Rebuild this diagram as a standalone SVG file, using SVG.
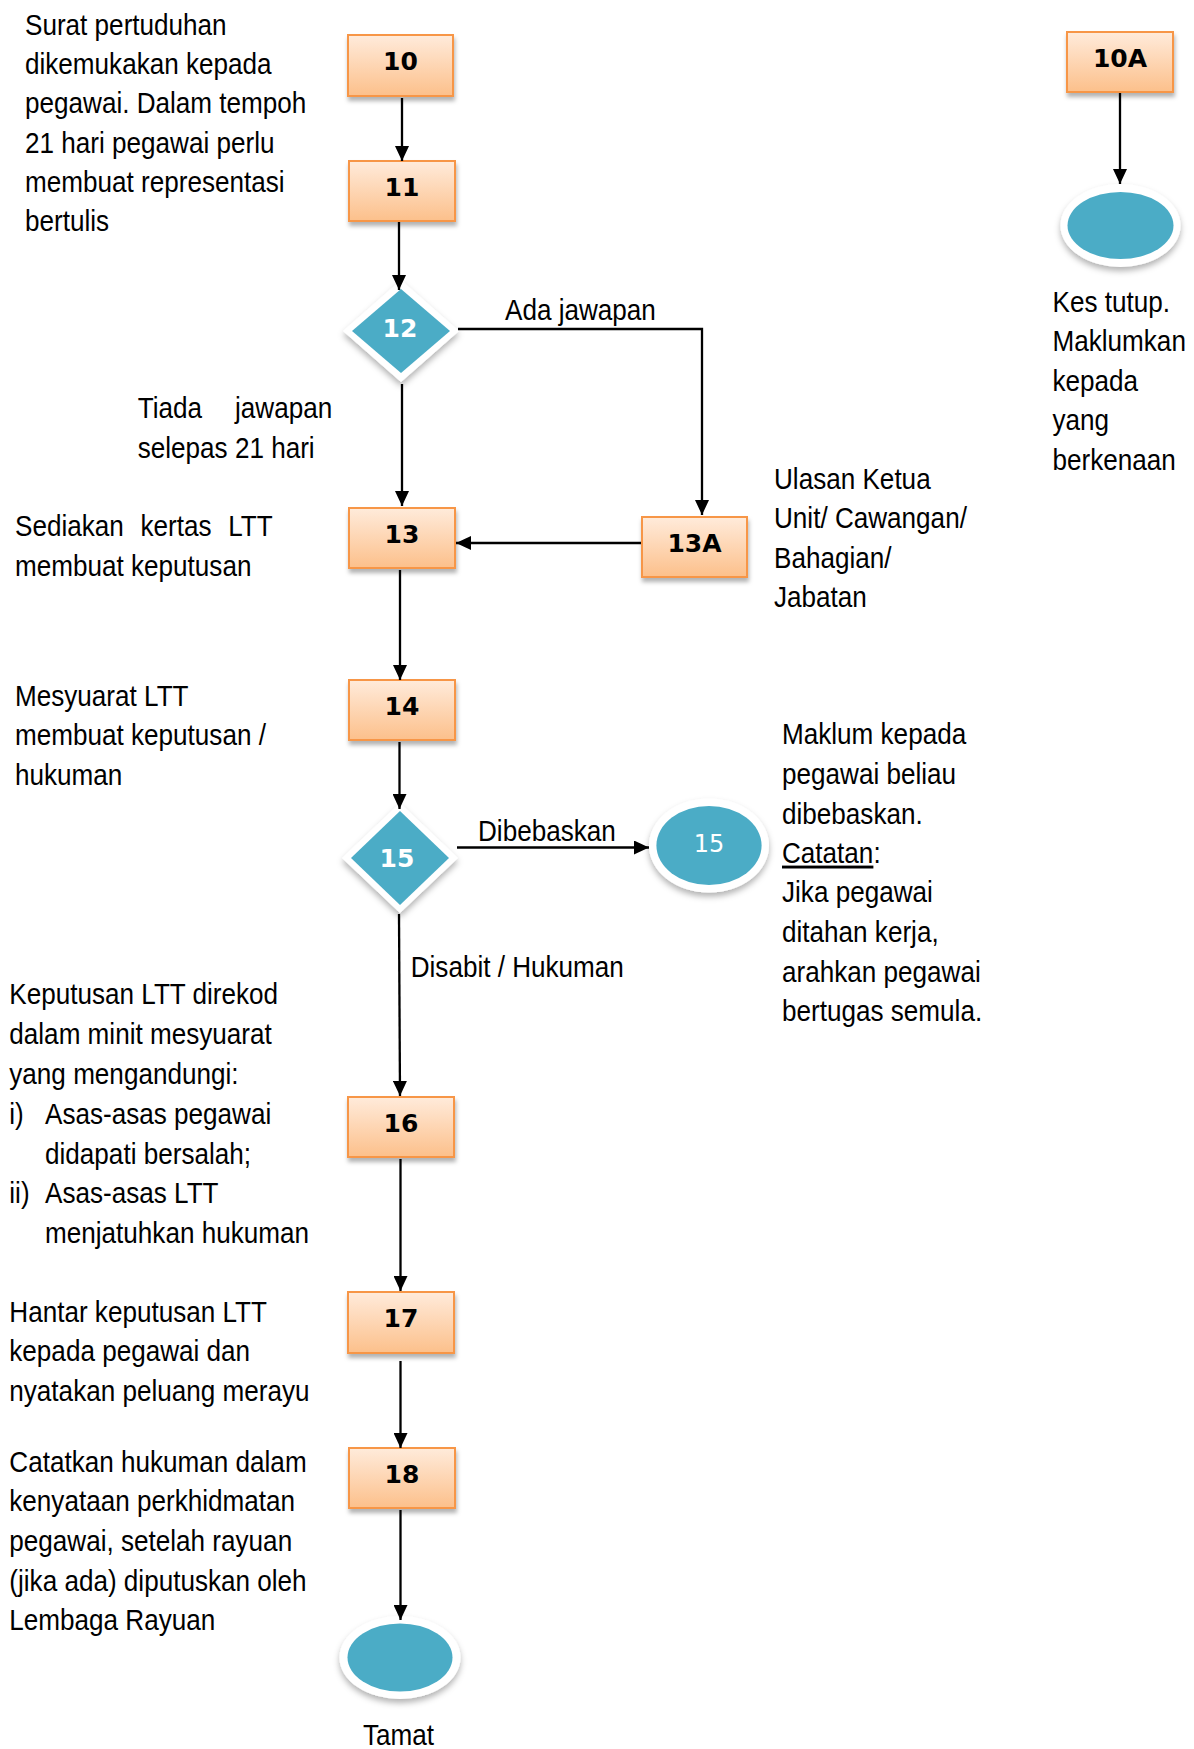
<svg xmlns="http://www.w3.org/2000/svg" width="1194" height="1749" viewBox="0 0 1194 1749">
  <style>
    .box { fill: url(#boxGrad); stroke: #F79646; stroke-width: 2; filter: url(#shadow); }
    .blab { font-family: "DejaVu Sans", Verdana, sans-serif; font-weight: bold; font-size: 25px; fill: #000; text-anchor: middle; }
    .wlab { font-family: "DejaVu Sans", Verdana, sans-serif; font-weight: bold; font-size: 25px; fill: #fff; text-anchor: middle; }
    .clab { font-family: "DejaVu Sans", Verdana, sans-serif; font-size: 24px; fill: #fff; text-anchor: middle; }
    .rim { fill: #fff; filter: url(#shadow2); }
    .teal { fill: #4BACC6; }
    .txt { font-family: "Liberation Sans", Arial, sans-serif; font-size: 29px; fill: #000; }
    .conn { fill: none; stroke: #000; stroke-width: 2.3; marker-end: url(#arrow); }
  </style>
  <defs>
    <linearGradient id="boxGrad" x1="0" y1="0" x2="0" y2="1">
      <stop offset="0" stop-color="#FFEBDB"/>
      <stop offset="1" stop-color="#FCC08B"/>
    </linearGradient>
    <filter id="shadow" x="-20%" y="-20%" width="140%" height="150%">
      <feDropShadow dx="1" dy="4" stdDeviation="2" flood-color="#000" flood-opacity="0.3"/>
    </filter>
    <filter id="shadow2" x="-20%" y="-20%" width="140%" height="150%">
      <feDropShadow dx="0" dy="4" stdDeviation="3" flood-color="#000" flood-opacity="0.3"/>
    </filter>
    <marker id="arrow" markerUnits="userSpaceOnUse" markerWidth="16" markerHeight="14" refX="15" refY="7" orient="auto">
      <path d="M0,0 L15,7 L0,14 z" fill="#000"/>
    </marker>
  </defs>

  <rect width="1194" height="1749" fill="#fff"/>

  <g id="node-10">
    <rect class="box" x="348" y="35" width="105" height="61"/>
    <text class="blab" x="400.5" y="70">10</text>
  </g>
  <g id="node-11">
    <rect class="box" x="349" y="161" width="106" height="60"/>
    <text class="blab" x="402" y="196">11</text>
  </g>
  <g id="node-10A">
    <rect class="box" x="1067" y="32" width="106" height="60"/>
    <text class="blab" x="1120" y="67">10A</text>
  </g>
  <g id="node-end-10A">
    <ellipse class="rim" cx="1120.5" cy="225.5" rx="60" ry="41.5"/>
    <ellipse class="teal" cx="1120.5" cy="225.5" rx="53" ry="33.5"/>
  </g>
  <g id="node-12">
    <polygon class="rim" points="401,280 459,331 401,382 343,331"/>
    <polygon class="teal" points="401,289 450,331 401,373 352,331"/>
    <text class="wlab" x="400" y="337">12</text>
  </g>
  <g id="node-13">
    <rect class="box" x="349" y="508" width="106" height="60"/>
    <text class="blab" x="402" y="543">13</text>
  </g>
  <g id="node-13A">
    <rect class="box" x="642" y="517" width="105" height="60"/>
    <text class="blab" x="694.5" y="552">13A</text>
  </g>
  <g id="node-14">
    <rect class="box" x="349" y="680" width="106" height="60"/>
    <text class="blab" x="402" y="715">14</text>
  </g>
  <g id="node-15">
    <polygon class="rim" points="400,803 458,858 400,913 342,858"/>
    <polygon class="teal" points="400,811 449,858 400,905 351,858"/>
    <text class="wlab" x="397" y="866.5">15</text>
  </g>
  <g id="node-15-circle">
    <ellipse class="rim" cx="709" cy="845.5" rx="60" ry="47"/>
    <ellipse class="teal" cx="709" cy="845.5" rx="52.6" ry="39.5"/>
    <text class="clab" x="709" y="852">15</text>
  </g>
  <g id="node-16">
    <rect class="box" x="348" y="1097" width="106" height="60"/>
    <text class="blab" x="401" y="1132">16</text>
  </g>
  <g id="node-17">
    <rect class="box" x="348" y="1292" width="106" height="61"/>
    <text class="blab" x="401" y="1327">17</text>
  </g>
  <g id="node-18">
    <rect class="box" x="349" y="1448" width="106" height="60"/>
    <text class="blab" x="402" y="1483">18</text>
  </g>
  <g id="node-end">
    <ellipse class="rim" cx="400" cy="1657.5" rx="60.5" ry="41.5"/>
    <ellipse class="teal" cx="400" cy="1657.5" rx="52.5" ry="34"/>
  </g>

  <g id="connectors">
    <path class="conn" d="M402,98 V161"/>
    <path class="conn" d="M1120,93 V184"/>
    <path class="conn" d="M399,222 V290"/>
    <path class="conn" d="M458,329 H702 V515"/>
    <path class="conn" d="M402,384 V506"/>
    <path class="conn" d="M641,543 H456"/>
    <path class="conn" d="M400,570 V680"/>
    <path class="conn" d="M399.5,742 V809"/>
    <path class="conn" d="M457,847.5 H649"/>
    <path class="conn" d="M399,914 L400,1096"/>
    <path class="conn" d="M400.5,1159 V1291"/>
    <path class="conn" d="M400.5,1361 V1448"/>
    <path class="conn" d="M400.5,1510 V1620"/>
  </g>

  <g id="labels">
    <text class="txt" transform="translate(25 0) scale(0.9 1)">
      <tspan x="0" y="35">Surat pertuduhan</tspan>
      <tspan x="0" y="74.2">dikemukakan kepada</tspan>
      <tspan x="0" y="113.4">pegawai. Dalam tempoh</tspan>
      <tspan x="0" y="152.6">21 hari pegawai perlu</tspan>
      <tspan x="0" y="191.8">membuat representasi</tspan>
      <tspan x="0" y="231">bertulis</tspan>
    </text>
    <text class="txt" transform="translate(1052.5 0) scale(0.9 1)">
      <tspan x="0" y="312">Kes tutup.</tspan>
      <tspan x="0" y="351.5">Maklumkan</tspan>
      <tspan x="0" y="391">kepada</tspan>
      <tspan x="0" y="430.5">yang</tspan>
      <tspan x="0" y="470">berkenaan</tspan>
    </text>
    <text class="txt" transform="translate(505 0) scale(0.9 1)" y="320">Ada jawapan</text>
    <text class="txt" transform="translate(137.7 0) scale(0.9 1)">
      <tspan x="0" y="418" word-spacing="28.6">Tiada jawapan</tspan>
      <tspan x="0" y="458.5">selepas 21 hari</tspan>
    </text>
    <text class="txt" transform="translate(15 0) scale(0.9 1)">
      <tspan x="0" y="536" word-spacing="10.5">Sediakan kertas LTT</tspan>
      <tspan x="0" y="576">membuat keputusan</tspan>
    </text>
    <text class="txt" transform="translate(774 0) scale(0.9 1)">
      <tspan x="0" y="489">Ulasan Ketua</tspan>
      <tspan x="0" y="528.5">Unit/ Cawangan/</tspan>
      <tspan x="0" y="568">Bahagian/</tspan>
      <tspan x="0" y="607">Jabatan</tspan>
    </text>
    <text class="txt" transform="translate(15 0) scale(0.9 1)">
      <tspan x="0" y="706">Mesyuarat LTT</tspan>
      <tspan x="0" y="745.5">membuat keputusan /</tspan>
      <tspan x="0" y="785">hukuman</tspan>
    </text>
    <text class="txt" transform="translate(478 0) scale(0.9 1)" y="841.5">Dibebaskan</text>
    <text class="txt" transform="translate(782 0) scale(0.9 1)">
      <tspan x="0" y="744.5">Maklum kepada</tspan>
      <tspan x="0" y="784.5">pegawai beliau</tspan>
      <tspan x="0" y="824">dibebaskan.</tspan>
      <tspan x="0" y="863.5" text-decoration="underline">Catatan</tspan><tspan>:</tspan>
      <tspan x="0" y="902.5">Jika pegawai</tspan>
      <tspan x="0" y="942">ditahan kerja,</tspan>
      <tspan x="0" y="982">arahkan pegawai</tspan>
      <tspan x="0" y="1021.5">bertugas semula.</tspan>
    </text>
    <text class="txt" transform="translate(410.7 0) scale(0.9 1)" y="977">Disabit / Hukuman</text>
    <text class="txt" transform="translate(9.3 0) scale(0.9 1)">
      <tspan x="0" y="1004">Keputusan LTT direkod</tspan>
      <tspan x="0" y="1044">dalam minit mesyuarat</tspan>
      <tspan x="0" y="1084">yang mengandungi:</tspan>
      <tspan x="0" y="1124">i)</tspan><tspan x="39.7" y="1124">Asas-asas pegawai</tspan>
      <tspan x="39.7" y="1164">didapati bersalah;</tspan>
      <tspan x="0" y="1203.5">ii)</tspan><tspan x="39.7" y="1203.5">Asas-asas LTT</tspan>
      <tspan x="39.7" y="1243.5">menjatuhkan hukuman</tspan>
    </text>
    <text class="txt" transform="translate(9.3 0) scale(0.9 1)">
      <tspan x="0" y="1322">Hantar keputusan LTT</tspan>
      <tspan x="0" y="1361">kepada pegawai dan</tspan>
      <tspan x="0" y="1401">nyatakan peluang merayu</tspan>
    </text>
    <text class="txt" transform="translate(9.3 0) scale(0.9 1)">
      <tspan x="0" y="1472">Catatkan hukuman dalam</tspan>
      <tspan x="0" y="1511.5">kenyataan perkhidmatan</tspan>
      <tspan x="0" y="1551">pegawai, setelah rayuan</tspan>
      <tspan x="0" y="1591">(jika ada) diputuskan oleh</tspan>
      <tspan x="0" y="1630.5">Lembaga Rayuan</tspan>
    </text>
    <text class="txt" transform="translate(398.5 0) scale(0.9 1)" y="1745" text-anchor="middle">Tamat</text>
  </g>
</svg>
